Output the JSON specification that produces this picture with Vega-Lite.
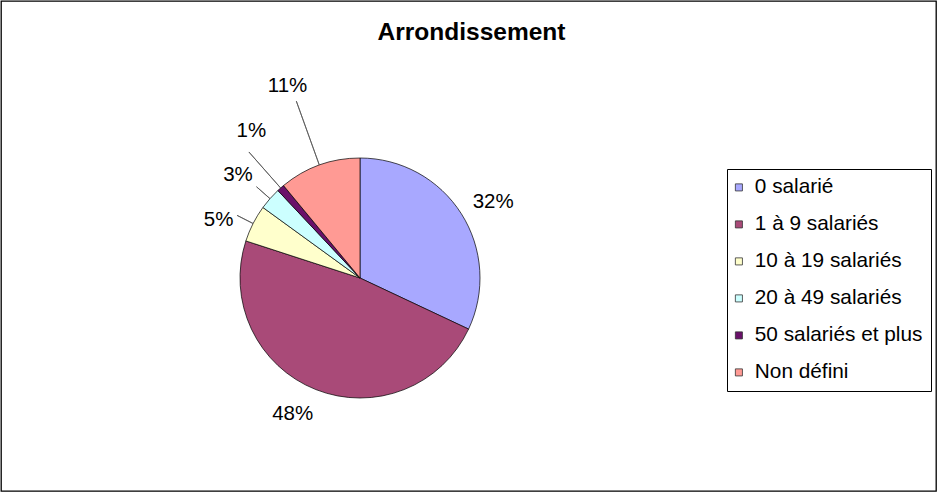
{
  "$schema": "https://vega.github.io/schema/vega-lite/v6.json",
  "width": 937,
  "height": 492,
  "autosize": {"type": "fit", "contains": "padding"},
  "padding": 1,
  "background": "white",
  "view": {"stroke": "#000", "strokeWidth": 1.3},
  "config": {
    "view": {"stroke": "#000", "strokeWidth": 1.3},
    "font": "Liberation Sans",
    "title": {"font": "Liberation Sans", "fontSize": 24.5, "fontWeight": "bold", "color": "#000"}
  },
  "title": {"text": "Arrondissement", "anchor": "middle", "frame": "group", "offset": -63, "dx": 3, "baseline": "alphabetic"},
  "data": {
    "values": [
      {"cat": "0 salarié", "value": 0.32},
      {"cat": "1 à 9 salariés", "value": 0.48},
      {"cat": "10 à 19 salariés", "value": 0.05},
      {"cat": "20 à 49 salariés", "value": 0.03},
      {"cat": "50 salariés et plus", "value": 0.01},
      {"cat": "Non défini", "value": 0.11}
    ]
  },
  "layer": [
    {
      "mark": {"type": "arc", "x": 359, "y": 277, "radius": 120, "stroke": "#000", "strokeWidth": 0.7},
      "encoding": {
        "theta": {"field": "value", "type": "quantitative", "stack": true},
        "order": {"field": "cat", "type": "ordinal", "sort": "ascending"},
        "color": {
          "field": "cat", "type": "nominal",
          "scale": {
            "domain": ["0 salarié", "1 à 9 salariés", "10 à 19 salariés", "20 à 49 salariés", "50 salariés et plus", "Non défini"],
            "range": ["#A8A8FF", "#A94A78", "#FFFFCC", "#CCFFFF", "#6A106A", "#FF9A94"]
          },
          "legend": {
            "orient": "none", "legendX": 726, "legendY": 168, "title": null,
            "strokeColor": "#000", "fillColor": "#fff", "padding": 8,
            "symbolType": "square", "symbolSize": 50, "symbolStrokeColor": "#333", "symbolStrokeWidth": 0.8,
            "symbolOffset": -6.5,
            "labelFont": "Liberation Sans", "labelFontSize": 20.8, "labelColor": "#000", "labelOffset": 5.5,
            "labelLimit": 400, "rowPadding": 15
          }
        }
      }
    },
    {
      "mark": {"type": "arc", "x": 359, "y": 277, "radius": 138, "radius2": 120, "padAngle": 3.1416, "fillOpacity": 0, "stroke": "#555", "strokeWidth": 0.8},
      "encoding": {
        "theta": {"field": "value", "type": "quantitative", "stack": true},
        "order": {"field": "cat", "type": "ordinal", "sort": "ascending"},
        "detail": {"field": "cat", "type": "nominal"},
        "strokeOpacity": {"condition": {"test": "datum.cat === '10 à 19 salariés' || datum.cat === '20 à 49 salariés'", "value": 1}, "value": 0}
      }
    },
    {
      "mark": {"type": "arc", "x": 359, "y": 277, "radius": 168, "radius2": 120, "padAngle": 3.1416, "fillOpacity": 0, "stroke": "#555", "strokeWidth": 0.8},
      "encoding": {
        "theta": {"field": "value", "type": "quantitative", "stack": true},
        "order": {"field": "cat", "type": "ordinal", "sort": "ascending"},
        "detail": {"field": "cat", "type": "nominal"},
        "strokeOpacity": {"condition": {"test": "datum.cat === '50 salariés et plus'", "value": 1}, "value": 0}
      }
    },
    {
      "mark": {"type": "arc", "x": 359, "y": 277, "radius": 188, "radius2": 120, "padAngle": 3.1416, "fillOpacity": 0, "stroke": "#555", "strokeWidth": 0.8},
      "encoding": {
        "theta": {"field": "value", "type": "quantitative", "stack": true},
        "order": {"field": "cat", "type": "ordinal", "sort": "ascending"},
        "detail": {"field": "cat", "type": "nominal"},
        "strokeOpacity": {"condition": {"test": "datum.cat === 'Non défini'", "value": 1}, "value": 0}
      }
    },
    {
      "mark": {"type": "text", "x": 359, "y": 277, "radius": 153, "dx": 4, "dy": 6, "fontSize": 20.5, "font": "Liberation Sans", "color": "#000"},
      "encoding": {
        "theta": {"field": "value", "type": "quantitative", "stack": true},
        "order": {"field": "cat", "type": "ordinal", "sort": "ascending"},
        "detail": {"field": "cat", "type": "nominal"},
        "text": {"field": "value", "type": "quantitative", "format": ".0%"},
        "opacity": {"condition": {"test": "datum.cat === '0 salarié'", "value": 1}, "value": 0}
      }
    },
    {
      "mark": {"type": "text", "x": 359, "y": 277, "radius": 153, "dx": -11, "dy": -6, "fontSize": 20.5, "font": "Liberation Sans", "color": "#000"},
      "encoding": {
        "theta": {"field": "value", "type": "quantitative", "stack": true},
        "order": {"field": "cat", "type": "ordinal", "sort": "ascending"},
        "detail": {"field": "cat", "type": "nominal"},
        "text": {"field": "value", "type": "quantitative", "format": ".0%"},
        "opacity": {"condition": {"test": "datum.cat === '1 à 9 salariés'", "value": 1}, "value": 0}
      }
    },
    {
      "mark": {"type": "text", "x": 359, "y": 277, "radius": 153, "dx": -5, "dy": 11, "fontSize": 20.5, "font": "Liberation Sans", "color": "#000"},
      "encoding": {
        "theta": {"field": "value", "type": "quantitative", "stack": true},
        "order": {"field": "cat", "type": "ordinal", "sort": "ascending"},
        "detail": {"field": "cat", "type": "nominal"},
        "text": {"field": "value", "type": "quantitative", "format": ".0%"},
        "opacity": {"condition": {"test": "datum.cat === '10 à 19 salariés'", "value": 1}, "value": 0}
      }
    },
    {
      "mark": {"type": "text", "x": 359, "y": 277, "radius": 160, "dx": -2, "dy": 3, "fontSize": 20.5, "font": "Liberation Sans", "color": "#000"},
      "encoding": {
        "theta": {"field": "value", "type": "quantitative", "stack": true},
        "order": {"field": "cat", "type": "ordinal", "sort": "ascending"},
        "detail": {"field": "cat", "type": "nominal"},
        "text": {"field": "value", "type": "quantitative", "format": ".0%"},
        "opacity": {"condition": {"test": "datum.cat === '20 à 49 salariés'", "value": 1}, "value": 0}
      }
    },
    {
      "mark": {"type": "text", "x": 359, "y": 277, "radius": 184, "dx": 13, "dy": -9, "fontSize": 20.5, "font": "Liberation Sans", "color": "#000"},
      "encoding": {
        "theta": {"field": "value", "type": "quantitative", "stack": true},
        "order": {"field": "cat", "type": "ordinal", "sort": "ascending"},
        "detail": {"field": "cat", "type": "nominal"},
        "text": {"field": "value", "type": "quantitative", "format": ".0%"},
        "opacity": {"condition": {"test": "datum.cat === '50 salariés et plus'", "value": 1}, "value": 0}
      }
    },
    {
      "mark": {"type": "text", "x": 359, "y": 277, "radius": 205, "dx": -3, "dy": 1, "fontSize": 20.5, "font": "Liberation Sans", "color": "#000"},
      "encoding": {
        "theta": {"field": "value", "type": "quantitative", "stack": true},
        "order": {"field": "cat", "type": "ordinal", "sort": "ascending"},
        "detail": {"field": "cat", "type": "nominal"},
        "text": {"field": "value", "type": "quantitative", "format": ".0%"},
        "opacity": {"condition": {"test": "datum.cat === 'Non défini'", "value": 1}, "value": 0}
      }
    }
  ]
}
